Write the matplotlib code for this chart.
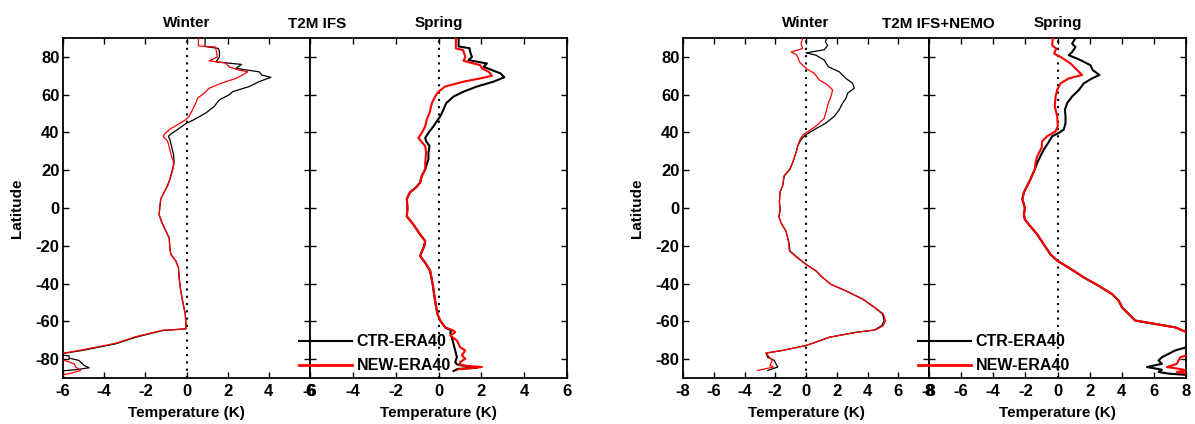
import matplotlib
matplotlib.use('Agg')
import matplotlib.pyplot as plt

plt.rcParams['font.family'] = ['Liberation Sans', 'DejaVu Sans']
plt.rcParams['font.weight'] = 'bold'
plt.rcParams['axes.unicode_minus'] = False

# ---------------- data ----------------
# Panel 1: IFS, Winter
ifs_win_ctr_lat = [90, 85.5, 84.5, 82.6, 80, 77.4, 76, 73.9, 72.1, 70.4, 69.2, 66.9, 64.3, 61.6,
                   59.9, 57.2, 53.8, 50.3, 46.8, 44.7, 41.5, 39.2, 38.0, 36.3, 32.8, 28.4, 24, 20.5,
                   15.3, 11.8, 8.3, 4.8, 0, -3.5, -7, -12.3, -15.8, -21, -24.6, -28, -31.6, -36.8,
                   -43.9, -50.9, -56.1, -61.4, -64, -64.9, -68.4, -71.9, -75.4, -77.2, -77.6, -78.3,
                   -79.5, -80.7, -83.3, -84.6, -85.6, -86.5]
ifs_win_ctr_t = [0.91, 0.9, 1.55, 1.6, 1.6, 1.43, 2.67, 2.4, 3.53, 3.66, 4.1, 3.53, 3.05, 2.24,
                 2.07, 1.59, 1.35, 0.94, 0.37, -0.03, -0.44, -0.76, -0.88, -0.81, -0.73, -0.63, -0.6, -0.68,
                 -0.81, -0.92, -1.09, -1.25, -1.3, -1.33, -1.22, -1.0, -0.84, -0.81, -0.76, -0.52, -0.39, -0.36,
                 -0.28, -0.16, -0.06, -0.03, -0.03, -1.17, -2.46, -3.44, -5.06, -6.1, -6.3, -5.7,
                 -5.7, -5.22, -4.98, -4.73, -5.38, -6.3]
ifs_win_new_lat = [90, 85.8, 85.2, 82.6, 80, 77.9, 76.8, 74.7, 73, 72.1, 70.4, 68.6, 66, 63.4, 60.8,
                   58.1, 55.5, 52, 48.5, 46.8, 44.1, 41.5, 38.9, 37.7, 35.4, 31, 27.5, 24, 20.5,
                   15.3, 11.8, 8.3, 4.8, 0, -3.5, -7, -12.3, -15.8, -21, -24.6, -28, -31.6, -36.8,
                   -43.9, -50.9, -56.1, -61.4, -64, -64.7, -68.1, -71.6, -75.1, -76.8, -77.8, -80.2,
                   -80.8, -82.5, -84.2, -86, -87.7, -88.8]
ifs_win_new_t = [0.58, 0.58, 1.4, 1.46, 1.5, 1.1, 1.9, 2.07, 2.56, 2.97, 2.72, 2.4, 1.67, 1.1, 0.86,
                 0.53, 0.45, 0.29, 0.13, -0.03, -0.44, -0.84, -1.09, -1.12, -0.92, -0.81, -0.73, -0.62, -0.66,
                 -0.8, -0.92, -1.09, -1.25, -1.3, -1.33, -1.22, -1.0, -0.84, -0.81, -0.76, -0.52, -0.39, -0.36,
                 -0.28, -0.16, -0.06, -0.03, -0.03, -1.17, -2.46, -3.44, -5.06, -5.95, -6.3, -6.2,
                 -5.9, -5.46, -5.38, -5.14, -5.7, -6.3]

# Panel 2: IFS, Spring
ifs_spr_ctr_lat = [90, 85.5, 84.6, 82.6, 80, 78.3, 76.5, 74.8, 73, 71.3, 69.2, 66.9, 64.3, 61.6, 59,
                   55.5, 52, 48.5, 45.9, 43.3, 39.8, 37.1, 35.4, 32.8, 29.3, 25.8, 23.1, 20.5, 17,
                   13.5, 10.9, 8.3, 4.8, 0, -4.4, -8.8, -14, -17.5, -20.2, -25.4, -29, -33.3, -40.4,
                   -49.1, -56.1, -59.6, -63.2, -64.9, -66, -68.4, -71.9, -75.4, -79, -81.6, -82.8,
                   -84.6, -85.2, -86.3]
ifs_spr_ctr_t = [0.94, 0.94, 1.45, 1.48, 1.56, 1.40, 2.26, 2.1, 2.5, 2.89, 3.07, 2.57, 1.79, 1.17, 0.7,
                 0.36, 0.23, 0.08, -0.08, -0.23, -0.47, -0.62, -0.58, -0.42, -0.47, -0.47, -0.55, -0.62, -0.78,
                 -0.86, -1.05, -1.33, -1.48, -1.45, -1.48, -1.17, -0.86, -0.62, -0.67, -0.86, -0.62, -0.39, -0.27,
                 -0.16, -0.05, 0.08, 0.31, 0.6, 0.55, 0.62, 0.7, 0.78, 0.86, 0.78, 0.86,
                 1.79, 0.9, 0.7]
ifs_spr_new_lat = [90, 84.5, 83.6, 80, 77.9, 75.6, 73.9, 72.1, 70, 68.6, 66.9, 64.3, 61.6, 59, 55.5,
                   50.3, 46.8, 43.3, 39.8, 37.1, 35.9, 32.8, 29.3, 24, 20.5, 17,
                   13.5, 10.9, 8.3, 4.8, 0, -4.4, -8.8, -14, -17.5, -20.2, -25.4, -29, -33.3, -40.4,
                   -49.1, -56.1, -59.6, -63.2, -64.9, -65.8, -67.5, -70.2, -73.7, -75.4, -78, -79.8,
                   -81.6, -83.3, -84.2, -85.4]
ifs_spr_new_t = [0.81, 0.81, 1.15, 1.25, 1.17, 1.95, 2.03, 2.34, 2.5, 1.95, 1.17, 0.31, 0.0, -0.16, -0.31,
                 -0.42, -0.55, -0.62, -0.78, -0.94, -0.86, -0.62, -0.58, -0.62, -0.62, -0.78,
                 -0.86, -1.05, -1.33, -1.48, -1.45, -1.48, -1.17, -0.86, -0.62, -0.67, -0.86, -0.62, -0.39, -0.27,
                 -0.16, -0.05, 0.08, 0.31, 0.7, 0.78, 0.55, 0.86, 1.01, 1.25, 1.09, 1.25,
                 1.01, 1.01, 2.03, 0.94]

# Panel 3: IFS+NEMO, Winter
nemo_win_ctr_lat = [90, 87.9, 86.1, 83.8, 82.1, 80.9, 78.3, 74.8, 72.1, 68.6, 66, 63.4, 60.8, 58.1,
                    55.5, 52, 48.5, 45, 41.5, 38.9, 36.3, 32.8, 29.3, 24, 20.5, 17, 11.8, 8.3, 3, 0,
                    -1.75, -4.4, -7.9, -12.3, -17.5, -22.8, -26.3, -29.8, -33.3, -36.8, -40.4, -43.9,
                    -48.2, -52.6, -56.1, -59.6, -62.3, -64.6, -65.8, -68.4, -71, -72.8, -75.4, -76.8,
                    -79, -80.7, -82.5, -84.2, -86]
nemo_win_ctr_t = [1.34, 1.26, 1.41, 1.19, 0.0, 0.65, 1.19, 1.45, 2.16, 2.6, 3.03, 3.14, 2.71, 2.6,
                  2.38, 2.16, 1.84, 1.3, 0.54, 0.0, -0.32, -0.54, -0.65, -0.87, -1.04, -1.41, -1.52, -1.69, -1.73, -1.69,
                  -1.69, -1.77, -1.62, -1.3, -1.13, -1.04, -0.54, 0.0, 0.65, 1.08, 1.62, 2.6,
                  3.68, 4.44, 4.98, 5.08, 4.93, 4.44, 3.25, 1.52, 0.65, 0.0, -1.52, -2.6,
                  -2.49, -2.06, -1.95, -1.84, -2.49]
nemo_win_new_lat = [90, 87, 84.4, 82.6, 81.4, 80, 77.4, 73.9, 71.3, 67.8, 65.1, 62.5, 59, 55.5, 52,
                    47.6, 44.1, 41.5, 38.9, 36.3, 32.8, 29.3, 24, 20.5, 17, 11.8, 8.3, 3, 0,
                    -1.75, -4.4, -7.9, -12.3, -17.5, -22.8, -26.3, -29.8, -33.3, -36.8, -40.4, -43.9,
                    -48.2, -52.6, -56.1, -59.6, -62.3, -64.6, -65.8, -68.4, -71, -72.8, -75.4, -76.8,
                    -79, -80.7, -83.3, -84.2, -86]
nemo_win_new_t = [-0.22, -0.32, -0.22, -0.97, -0.65, -0.54, -0.43, 0.0, 0.54, 0.87, 1.41, 1.73, 1.62, 1.45, 1.34,
                  1.19, 0.76, 0.32, -0.17, -0.39, -0.54, -0.65, -0.87, -1.06, -1.43, -1.52, -1.69, -1.73, -1.69,
                  -1.69, -1.77, -1.62, -1.3, -1.15, -1.08, -0.58, -0.02, 0.65, 1.08, 1.62, 2.6,
                  3.7, 4.47, 5.03, 5.17, 5.03, 4.5, 3.3, 1.55, 0.65, 0.0, -1.52, -2.6,
                  -2.38, -2.2, -2.34, -2.12, -3.14]

# Panel 4: IFS+NEMO, Spring
nemo_spr_ctr_lat = [90, 87, 85.2, 82.6, 80.9, 78.3, 75.6, 73, 70.4, 68.6, 66, 62.5, 59, 55.5, 52,
                    48.5, 45, 41.5, 39.8, 38, 34.5, 31, 27.5, 24, 20.5, 15.3, 11.8, 8.3, 4.8, 0,
                    -3.5, -6.1, -8.8, -14, -19.3, -24.6, -28, -31.6, -33.3, -36.8, -41.2, -45.6,
                    -49.1, -52.6, -56.1, -59.6, -61.4, -63.2, -65.8, -68, -72, -73.7, -75.4, -77.2,
                    -79, -80.7, -82.5, -84.2, -85.6, -86.8, -87.7, -88.5]
nemo_spr_ctr_t = [1.12, 0.91, 1.12, 0.91, 0.7, 1.43, 2.05, 2.19, 2.61, 2.15, 1.64, 1.33, 0.91, 0.6, 0.46,
                  0.5, 0.5, 0.39, 0.08, -0.33, -0.58, -0.85, -1.06, -1.26, -1.41, -1.68, -1.88, -2.09, -2.19, -2.03,
                  -2.09, -2.03, -1.78, -1.26, -0.85, -0.43, 0.0, 0.7, 1.01, 1.64, 2.57, 3.4,
                  3.81, 4.02, 4.43, 4.84, 6.09, 7.33, 8.05, 9.5, 9.5, 8.05, 7.33, 6.92,
                  6.5, 6.29, 6.5, 5.57, 6.5, 6.29, 6.92, 8.3]
nemo_spr_new_lat = [90, 86.1, 84.4, 81.7, 80, 76.5, 73.9, 72.1, 70.4, 68.6, 66, 62.5, 59, 53.8, 48.5,
                    43.3, 40.6, 38, 35.4, 31.9, 27.5, 24, 20.5, 15.3, 11.8, 8.3, 4.8, 0,
                    -3.5, -6.1, -8.8, -14, -19.3, -24.6, -28, -31.6, -33.3, -36.8, -41.2, -45.6,
                    -49.1, -52.6, -56.1, -59.6, -61.4, -63.2, -65.8, -68, -76, -78, -79, -80.7,
                    -82.5, -84.2, -85.1, -86, -86.8, -88]
nemo_spr_new_t = [-0.29, -0.33, -0.08, -0.21, 0.19, 0.81, 1.12, 1.33, 1.53, 0.7, 0.19, -0.02, -0.12, -0.17, -0.02,
                  0.02, -0.12, -0.64, -0.95, -0.99, -1.26, -1.37, -1.41, -1.68, -1.88, -2.09, -2.19, -2.03,
                  -2.09, -2.03, -1.78, -1.26, -0.85, -0.43, 0.0, 0.7, 1.01, 1.64, 2.57, 3.4,
                  3.81, 4.02, 4.43, 4.84, 6.09, 7.33, 8.05, 9.5, 9.5, 8.05, 7.64, 7.54,
                  7.43, 6.81, 7.54, 8.05, 7.43, 8.3]

lat_ticks = [-80, -60, -40, -20, 0, 20, 40, 60, 80]
ifs_xticks = [-6, -4, -2, 0, 2, 4, 6]
nemo_xticks = [-8, -6, -4, -2, 0, 2, 4, 6, 8]
season_titles = ['Winter', 'Spring']
group_titles = ['T2M IFS', 'T2M IFS+NEMO']
series_labels = ['CTR-ERA40', 'NEW-ERA40']

# ---------------- layout ----------------
W, H = 1195, 424
fig = plt.figure(figsize=(W / 100, H / 100), dpi=100)
top_px, bot_px = 38, 378


def add(l, r):
    return fig.add_axes([l / W, 1 - bot_px / H, (r - l) / W, (bot_px - top_px) / H])


ax1 = add(63, 310)
ax2 = add(310, 567)
ax3 = add(683, 929)
ax4 = add(929, 1186)

panels = [
    (ax1, ifs_xticks, ifs_win_ctr_lat, ifs_win_ctr_t, ifs_win_new_lat, ifs_win_new_t, 0.9, season_titles[0], True),
    (ax2, ifs_xticks, ifs_spr_ctr_lat, ifs_spr_ctr_t, ifs_spr_new_lat, ifs_spr_new_t, 1.5, season_titles[1], False),
    (ax3, nemo_xticks, nemo_win_ctr_lat, nemo_win_ctr_t, nemo_win_new_lat, nemo_win_new_t, 0.9, season_titles[0], True),
    (ax4, nemo_xticks, nemo_spr_ctr_lat, nemo_spr_ctr_t, nemo_spr_new_lat, nemo_spr_new_t, 1.5, season_titles[1], False),
]

handles = {}
for ax, xt, cl, ct, nl, nt, lw, title, left in panels:
    ax.axvline(0, color='black', linestyle=(0, (1, 2.5)), linewidth=1.5, zorder=1)
    lc, = ax.plot(ct, cl, color='black', linewidth=lw, zorder=2)
    ln, = ax.plot(nt, nl, color='#ff0000', linewidth=lw, zorder=3)
    ax.set_xlim(xt[0], xt[-1])
    ax.set_ylim(-90, 90)
    ax.set_xticks(xt)
    ax.set_yticks(lat_ticks)
    ax.tick_params(axis='both', direction='in', top=True, right=True, length=4, width=1,
                   labelsize=12)
    ax.tick_params(axis='x', pad=4.5)
    ax.tick_params(axis='y', pad=2.5, labelleft=left)
    for s in ax.spines.values():
        s.set_linewidth(1.3)
    ax.set_title(title, fontsize=11, fontweight='bold', pad=8)
    ax.set_xlabel('Temperature (K)', fontsize=11, fontweight='bold', labelpad=4.5)
    if left:
        ax.set_ylabel('Latitude', fontsize=11, fontweight='bold')
        ax.yaxis.set_label_coords(-0.158, 0.5)
    handles[ax] = (lc, ln)

for ax in (ax2, ax4):
    lc, ln = handles[ax]
    leg = ax.legend([lc, ln], series_labels, loc='lower left', bbox_to_anchor=(-0.043, 0.014),
                    frameon=False, handlelength=3.3, handletextpad=0.3, labelspacing=0.55,
                    borderpad=0, borderaxespad=0, prop={'size': 11.5, 'weight': 'bold'})
    leg.get_lines()[0].set_linewidth(1.5)
    leg.get_lines()[1].set_linewidth(2.0)

fig.text(317 / W, 1 - 24 / H, group_titles[0], ha='center', va='center', fontsize=11, fontweight='bold')
fig.text(938 / W, 1 - 24 / H, group_titles[1], ha='center', va='center', fontsize=11, fontweight='bold')

fig.savefig('out.png', dpi=100)
